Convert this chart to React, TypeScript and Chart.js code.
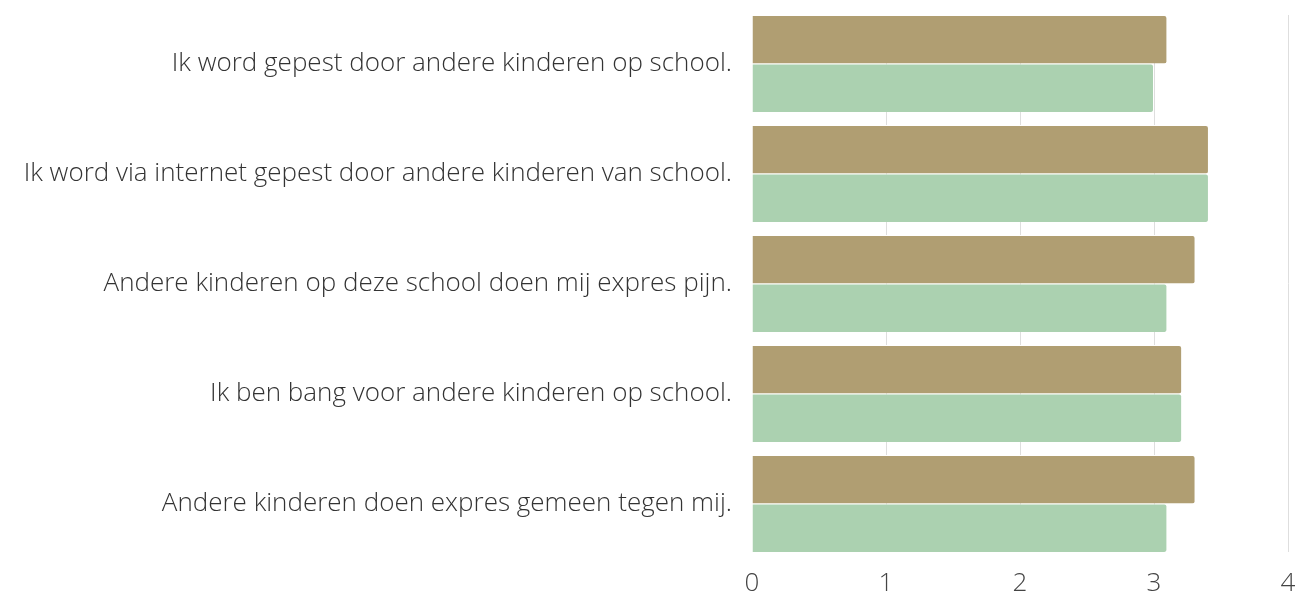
import React, { useEffect, useRef } from "react";
import { Chart, registerables } from "chart.js";

Chart.register(...registerables);

const categories: string[] = [
  "Ik word gepest door andere kinderen op school.",
  "Ik word via internet gepest door andere kinderen van school.",
  "Andere kinderen op deze school doen mij expres pijn.",
  "Ik ben bang voor andere kinderen op school.",
  "Andere kinderen doen expres gemeen tegen mij.",
];

const seriesA: number[] = [3.1, 3.41, 3.31, 3.21, 3.31];
const seriesB: number[] = [3.0, 3.41, 3.1, 3.21, 3.1];

const xTicks: number[] = [0, 1, 2, 3, 4];

const TAN = "#b09e72";
const GREEN = "#abd1b0";
const CAT_PCT = 0.882;

export default function App() {
  const ref = useRef<HTMLCanvasElement | null>(null);

  useEffect(() => {
    document.body.style.margin = "0";
    const ctx = ref.current!;
    const font = { family: "'Open Sans', sans-serif", size: 26, weight: "300" as any };
    const barStyle = {
      borderColor: "#ffffff",
      borderWidth: { top: 1, right: 1, bottom: 0, left: 0 },
      borderSkipped: "start" as const,
      borderRadius: 3,
      categoryPercentage: CAT_PCT,
      barPercentage: 1,
    };
    const chart = new Chart(ctx, {
      type: "bar",
      data: {
        datasets: [
          {
            label: "A",
            data: seriesA.map((v, i) => ({ x: v, y: i })),
            backgroundColor: TAN,
            ...barStyle,
          },
          {
            label: "B",
            data: seriesB.map((v, i) => ({ x: v, y: i })),
            backgroundColor: GREEN,
            ...barStyle,
          },
        ],
      },
      options: {
        indexAxis: "y",
        animation: false,
        responsive: false,
        maintainAspectRatio: false,
        layout: { padding: { top: 15, right: 10, left: 0, bottom: 0 } },
        plugins: { legend: { display: false }, tooltip: { enabled: false } },
        scales: {
          x: {
            type: "linear",
            min: xTicks[0],
            max: xTicks[xTicks.length - 1],
            border: { display: false },
            grid: {
              drawTicks: false,
              color: (c: any) => (c.tick && c.tick.value === 0 ? "rgba(0,0,0,0)" : "#dedede"),
            },
            ticks: {
              stepSize: 1,
              padding: 16,
              color: "#444444",
              font,
            },
            afterFit: (s: any) => {
              s.height = 43;
              s.paddingLeft = 0;
              s.paddingRight = 0;
            },
          },
          y: {
            type: "linear",
            reverse: true,
            offset: false,
            bounds: "data",
            min: -CAT_PCT / 2,
            max: categories.length - 1 + CAT_PCT / 2,
            border: { display: false },
            grid: { display: false, drawTicks: false, offset: false },
            afterBuildTicks: (s: any) => {
              s.ticks = categories.map((_, i) => ({ value: i }));
            },
            ticks: {
              autoSkip: false,
              padding: 20,
              color: "#333333",
              font,
              callback: (v: any) => {
                const n = Math.round(Number(v));
                return categories[n] !== undefined ? categories[n] : "";
              },
            },
            beforeFit: (s: any) => {
              s.maxWidth = 900;
            },
            afterFit: (s: any) => {
              s.width = 752;
              s.paddingTop = 0;
              s.paddingBottom = 0;
            },
          },
        },
      },
    });
    return () => chart.destroy();
  }, []);

  return (
    <div style={{ position: "absolute", left: 0, top: 0, width: 1298, height: 595 }}>
      <canvas ref={ref} width={1298} height={595} style={{ width: 1298, height: 595 }} />
    </div>
  );
}
